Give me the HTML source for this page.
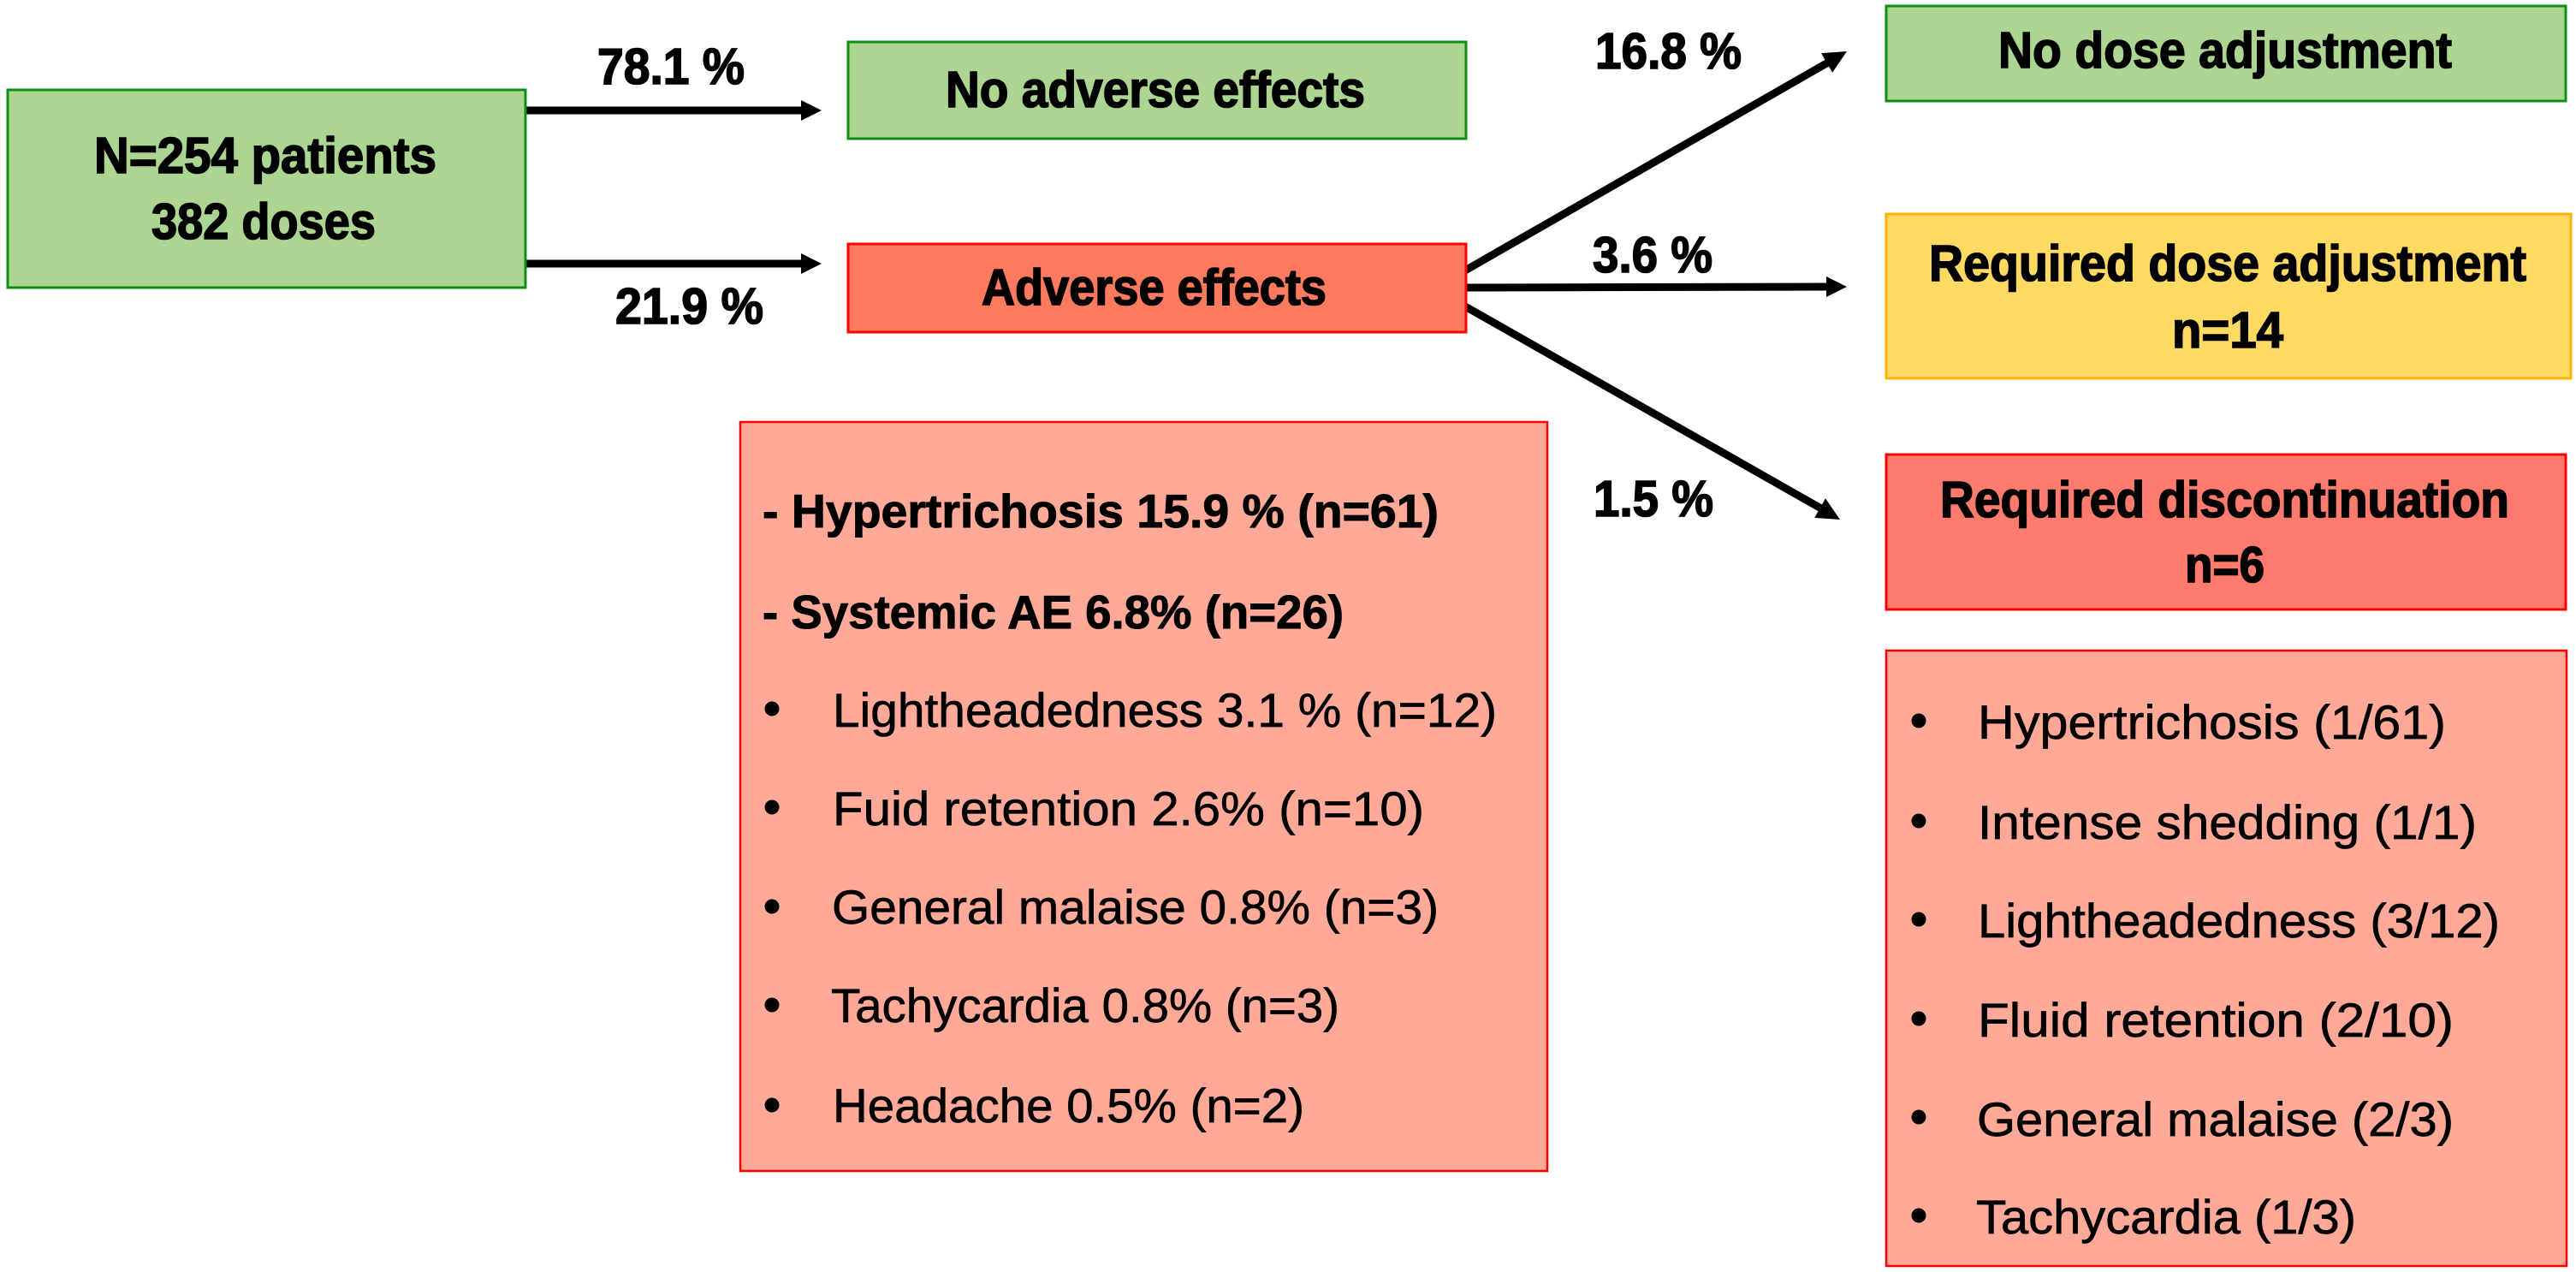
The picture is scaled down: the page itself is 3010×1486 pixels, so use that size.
<!DOCTYPE html>
<html lang="en">
<head>
<meta charset="utf-8">
<title>Adverse effects flow diagram</title>
<style>
html,body{margin:0;padding:0;background:#fff;width:3010px;height:1486px;overflow:hidden}
svg{display:block}
text{font-family:"Liberation Sans",Arial,sans-serif;fill:#000}
.b{font-weight:700;font-size:59px;stroke:#000;stroke-width:1.6px}
.l{font-weight:700;font-size:55px;stroke:#000;stroke-width:1px}
.r{font-weight:400;font-size:56px;stroke:#000;stroke-width:.7px}
.a{stroke:#000;stroke-width:9;fill:none}
</style>
</head>
<body>
<svg xmlns="http://www.w3.org/2000/svg" width="3010" height="1486" viewBox="0 0 3010 1486">
<rect x="0" y="0" width="3010" height="1486" fill="#fff"/>

<g>
<g><line class="a" x1="614" y1="129" x2="940" y2="129"/><polygon points="936,117 960,129 936,141" fill="#000"/></g>
<g><line class="a" x1="614" y1="308" x2="940" y2="308"/><polygon points="936,296 960,308 936,320" fill="#000"/></g>
<g><line class="a" x1="1712" y1="316" x2="2136" y2="73"/><polygon points="2158,60 2141.1,84.7 2128.1,62.1" fill="#000"/></g>
<g><line class="a" x1="1712" y1="336" x2="2138" y2="335"/><polygon points="2134,323 2158,335 2134,347" fill="#000"/></g>
<g><line class="a" x1="1712" y1="358" x2="2128" y2="594"/><polygon points="2150,607 2120.2,604.9 2133,582.3" fill="#000"/></g>
</g>

<g>
<rect x="9" y="105" width="605" height="231" fill="#acd591" stroke="#0f8f0f" stroke-width="3"/>
<text class="b" x="110" y="202" textLength="400" lengthAdjust="spacingAndGlyphs">N=254 patients</text>
<text class="b" x="177" y="279" textLength="262" lengthAdjust="spacingAndGlyphs">382 doses</text>
</g>

<g>
<rect x="991" y="49" width="722" height="113" fill="#acd591" stroke="#0f8f0f" stroke-width="3"/>
<text class="b" x="1105" y="125" textLength="490" lengthAdjust="spacingAndGlyphs">No adverse effects</text>
</g>

<g>
<rect x="991" y="285" width="722" height="103" fill="#ff7a5e" stroke="#ff0000" stroke-width="3"/>
<text class="b" x="1147" y="356" textLength="403" lengthAdjust="spacingAndGlyphs">Adverse effects</text>
</g>

<g>
<rect x="2204" y="7" width="794" height="111" fill="#acd591" stroke="#0f8f0f" stroke-width="3"/>
<text class="b" x="2335" y="79" textLength="530" lengthAdjust="spacingAndGlyphs">No dose adjustment</text>
</g>

<g>
<rect x="2204" y="250" width="800" height="192" fill="#ffda63" stroke="#ffb300" stroke-width="3"/>
<text class="b" x="2254" y="328" textLength="698" lengthAdjust="spacingAndGlyphs">Required dose adjustment</text>
<text class="b" x="2538" y="406" textLength="130" lengthAdjust="spacingAndGlyphs">n=14</text>
</g>

<g>
<rect x="2204" y="531" width="794" height="181" fill="#ff7b6e" stroke="#ff0000" stroke-width="3"/>
<text class="b" x="2267" y="604" textLength="665" lengthAdjust="spacingAndGlyphs">Required discontinuation</text>
<text class="b" x="2553" y="680" textLength="93" lengthAdjust="spacingAndGlyphs">n=6</text>
</g>

<g>
<text class="b" x="698" y="98" textLength="172" lengthAdjust="spacingAndGlyphs">78.1 %</text>
<text class="b" x="719" y="378" textLength="173" lengthAdjust="spacingAndGlyphs">21.9 %</text>
<text class="b" x="1864" y="80" textLength="171" lengthAdjust="spacingAndGlyphs">16.8 %</text>
<text class="b" x="1861" y="318" textLength="140" lengthAdjust="spacingAndGlyphs">3.6 %</text>
<text class="b" x="1862" y="603" textLength="140" lengthAdjust="spacingAndGlyphs">1.5 %</text>
</g>

<g>
<rect x="865" y="493" width="943" height="875" fill="#ffa999" stroke="#ff0000" stroke-width="2.5"/>
<text class="l" x="891" y="616" textLength="790" lengthAdjust="spacingAndGlyphs">- Hypertrichosis 15.9 % (n=61)</text>
<text class="l" x="891" y="734" textLength="679" lengthAdjust="spacingAndGlyphs">- Systemic AE 6.8% (n=26)</text>
<circle cx="902" cy="828" r="8.5"/>
<text class="r" x="973" y="849" textLength="776" lengthAdjust="spacingAndGlyphs">Lightheadedness 3.1 % (n=12)</text>
<circle cx="902" cy="943" r="8.5"/>
<text class="r" x="973" y="964" textLength="691" lengthAdjust="spacingAndGlyphs">Fuid retention 2.6% (n=10)</text>
<circle cx="902" cy="1059" r="8.5"/>
<text class="r" x="972" y="1079" textLength="709" lengthAdjust="spacingAndGlyphs">General malaise 0.8% (n=3)</text>
<circle cx="902" cy="1174" r="8.5"/>
<text class="r" x="971" y="1194" textLength="594" lengthAdjust="spacingAndGlyphs">Tachycardia 0.8% (n=3)</text>
<circle cx="902" cy="1291" r="8.5"/>
<text class="r" x="973" y="1311" textLength="551" lengthAdjust="spacingAndGlyphs">Headache 0.5% (n=2)</text>
</g>

<g>
<rect x="2204" y="760" width="795" height="719" fill="#ffa999" stroke="#ff0000" stroke-width="2.5"/>
<circle cx="2242" cy="842" r="8.5"/>
<text class="r" x="2311" y="863" textLength="547" lengthAdjust="spacingAndGlyphs">Hypertrichosis (1/61)</text>
<circle cx="2242" cy="959" r="8.5"/>
<text class="r" x="2311" y="980" textLength="583" lengthAdjust="spacingAndGlyphs">Intense shedding (1/1)</text>
<circle cx="2242" cy="1074" r="8.5"/>
<text class="r" x="2311" y="1095" textLength="610" lengthAdjust="spacingAndGlyphs">Lightheadedness (3/12)</text>
<circle cx="2242" cy="1190" r="8.5"/>
<text class="r" x="2311" y="1211" textLength="556" lengthAdjust="spacingAndGlyphs">Fluid retention (2/10)</text>
<circle cx="2242" cy="1305" r="8.5"/>
<text class="r" x="2310" y="1327" textLength="557" lengthAdjust="spacingAndGlyphs">General malaise (2/3)</text>
<circle cx="2242" cy="1420" r="8.5"/>
<text class="r" x="2309" y="1441" textLength="444" lengthAdjust="spacingAndGlyphs">Tachycardia (1/3)</text>
</g>
</svg>
</body>
</html>
